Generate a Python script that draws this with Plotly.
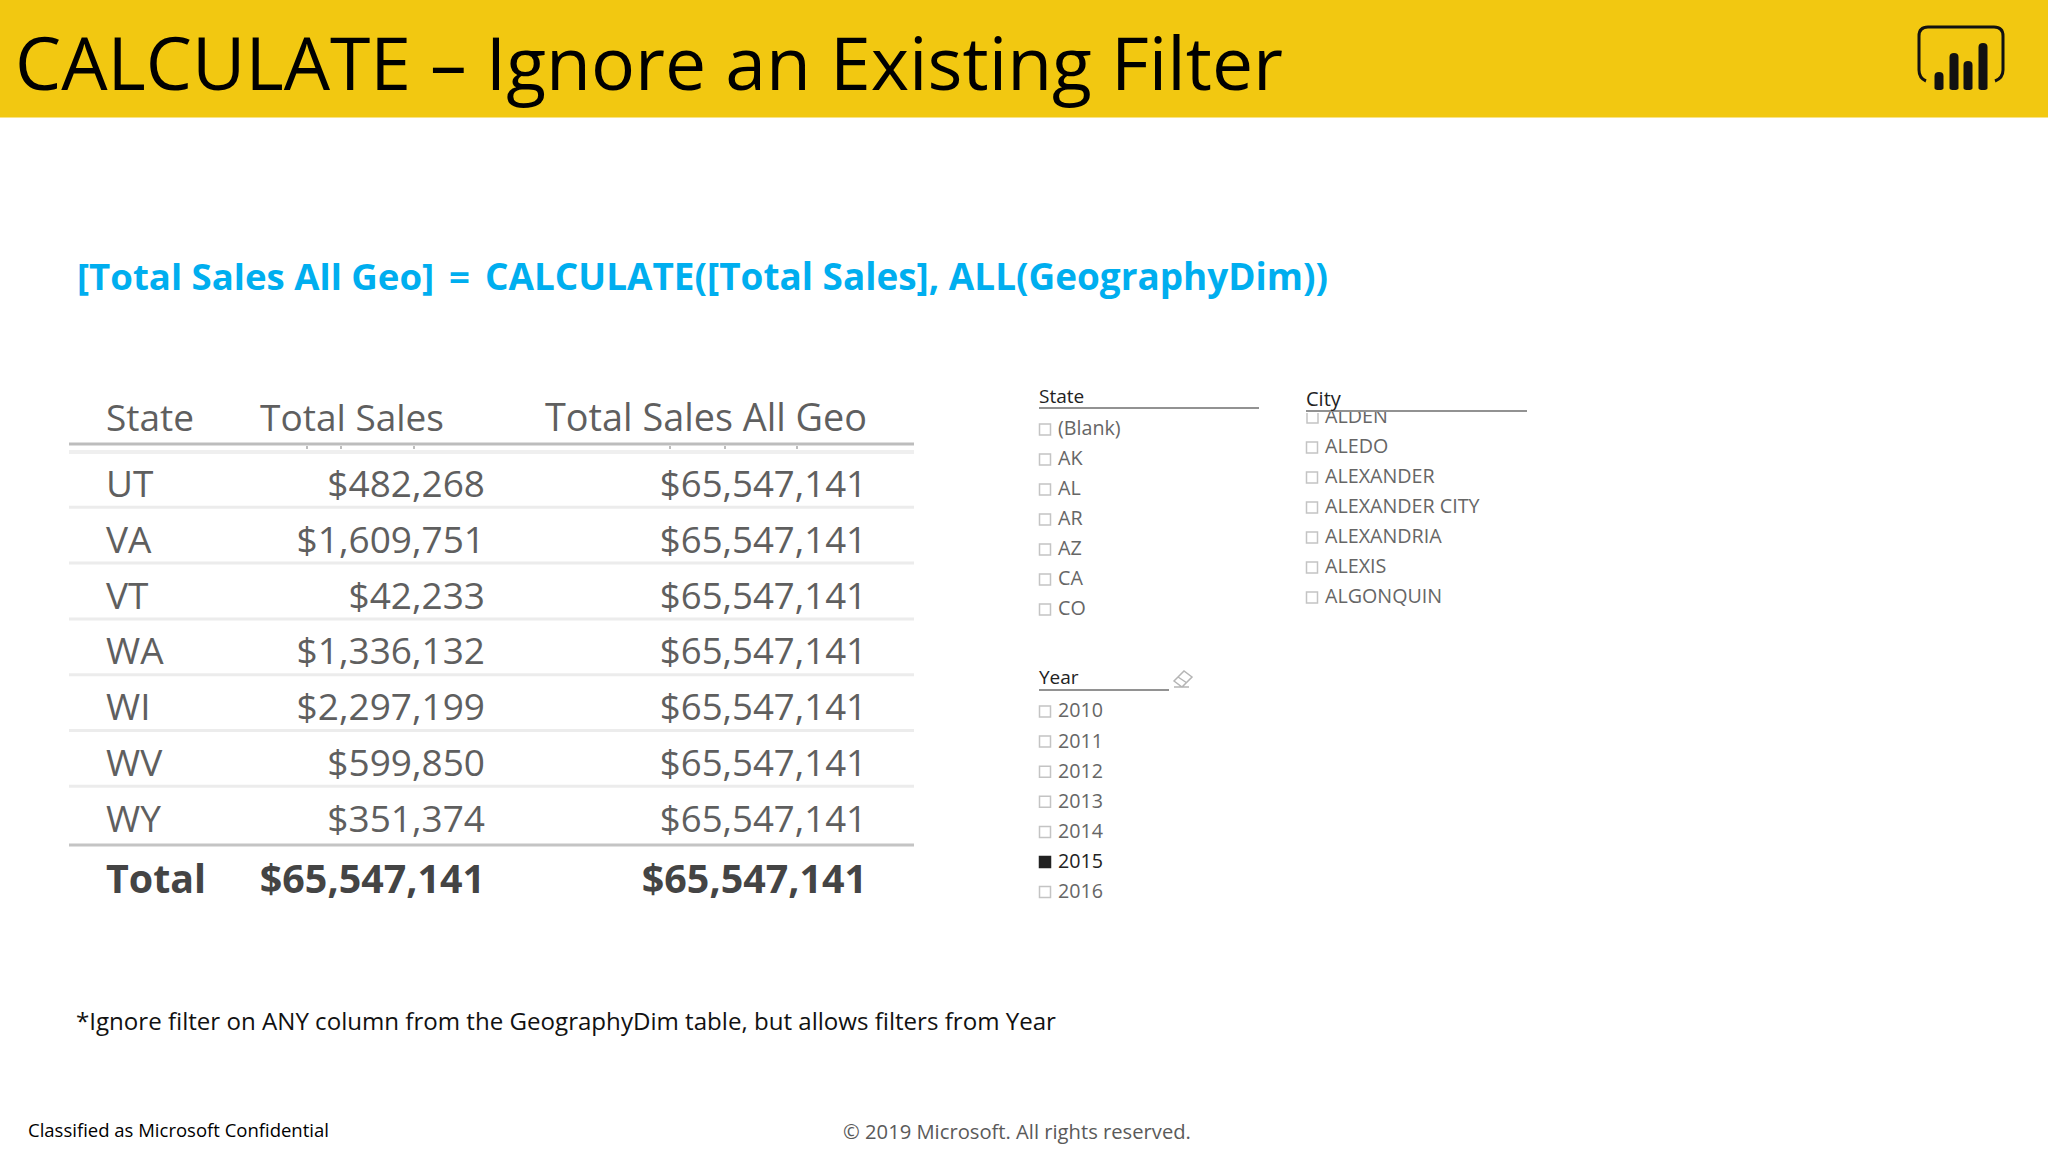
import plotly.graph_objects as go

# table values
states = ["UT", "VA", "VT", "WA", "WI", "WV", "WY"]
total_sales = ["$482,268", "$1,609,751", "$42,233", "$1,336,132", "$2,297,199", "$599,850", "$351,374"]
total_all_geo = ["$65,547,141"] * 7
total_row = ["Total", "$65,547,141", "$65,547,141"]
headers = ["State", "Total Sales", "Total Sales All Geo"]

# slicer items
state_items = ["(Blank)", "AK", "AL", "AR", "AZ", "CA", "CO"]
city_items = ["ALDEN", "ALEDO", "ALEXANDER", "ALEXANDER CITY", "ALEXANDRIA", "ALEXIS", "ALGONQUIN"]
year_items = ["2010", "2011", "2012", "2013", "2014", "2015", "2016"]
year_selected = "2015"

YELLOW = "#F2C811"
BLUE = "#00AEEF"
GREY = "#5f5f5f"
SLICER_GREY = "#666666"
FONT = "Open Sans"

fig = go.Figure()
shapes = []
annots = []


def text_trace(xs, ys, texts, pos, size, color=GREY, family=FONT):
    fig.add_trace(go.Scatter(x=xs, y=ys, text=texts, mode="text", textposition=pos,
                             textfont=dict(family=family, size=size, color=color),
                             showlegend=False, hoverinfo="skip", cliponaxis=False))


def label(x, y, text, size, color="#000000", anchor="left"):
    annots.append(dict(x=x, y=y, text=text, xref="x", yref="y", showarrow=False, xanchor=anchor,
                       yanchor="middle", font=dict(family=FONT, size=size, color=color)))


def hline(x0, x1, y, color, width):
    shapes.append(dict(type="line", x0=x0, x1=x1, y0=y, y1=y, line=dict(color=color, width=width)))


def box(x, y, filled=False):
    shapes.append(dict(type="rect", x0=x - 5.5, x1=x + 5.5, y0=y - 5.5, y1=y + 5.5,
                       fillcolor="#222222" if filled else "rgba(0,0,0,0)",
                       line=dict(color="#222222" if filled else "#c4c4c4", width=1.5)))


# ---- header band
shapes.append(dict(type="rect", x0=0, x1=2048, y0=0, y1=117.5, fillcolor=YELLOW, line=dict(width=0), layer="below"))
label(13, 61, "CALCULATE – Ignore an Existing Filter", 73.3)

# power bi logo
shapes.append(dict(type="path", path="M 1926,81 Q 1919,78 1919,70 V 36 Q 1919,27 1928,27 H 1994 Q 2003,27 2003,36 V 70 Q 2003,78 1995,81",
                   line=dict(color="#111111", width=3)))
for bx, top in zip([1939, 1954, 1968, 1983], [72, 53, 61, 43]):
    shapes.append(dict(type="path", path=f"M {bx-4.5},88 V {top+4} Q {bx-4.5},{top} {bx},{top} Q {bx+4.5},{top} {bx+4.5},{top+4} V 88 Q {bx+4.5},90 {bx},90 Q {bx-4.5},90 {bx-4.5},88 Z",
                       fillcolor="#111111", line=dict(width=0)))

# ---- formula and notes
label(75, 276, "<b>[Total Sales All Geo]</b>", 36.6, BLUE)
label(447, 276, "<b>=</b>", 36.6, BLUE)
label(483, 276, "<b>CALCULATE([Total Sales], ALL(GeographyDim))</b>", 36.9, BLUE)
label(74, 1020, "*Ignore filter on ANY column from the GeographyDim table, but allows filters from Year", 24.1, "#111111")
label(26, 1129, "Classified as Microsoft Confidential", 18.5, "#000000")
label(841, 1131, "© 2019 Microsoft. All rights reserved.", 20.2, "#5a5a5a")

# ---- table
TL, TR = 69, 914
COL_X = [106, 485, 867]
HEAD_Y = 422
ROW_Y0, ROW_H = 487.8, 55.8
TOTAL_Y = 883
row_ys = [ROW_Y0 + i * ROW_H for i in range(len(states))]

text_trace([COL_X[0]], [HEAD_Y], [headers[0]], "middle right", 37)
text_trace([444], [HEAD_Y], [headers[1]], "middle left", 37)
text_trace([COL_X[2]], [HEAD_Y], [headers[2]], "middle left", 37.8)
text_trace([COL_X[0]] * len(states), row_ys, states, "middle right", 37)
text_trace([COL_X[1]] * len(states), row_ys, total_sales, "middle left", 37)
text_trace([COL_X[2]] * len(states), row_ys, total_all_geo, "middle left", 36.6)
text_trace(COL_X, [TOTAL_Y] * 3, [f"<b>{t}</b>" for t in total_row], ["middle right", "middle left", "middle left"], 39.4, "#444444")

hline(TL, TR, 444, "#bdbdbd", 3)
hline(TL, TR, 452, "#efefef", 4)
for i in range(6):
    hline(TL, TR, row_ys[i] + 19.5, "#ececec", 3)
hline(TL, TR, 845, "#c4c4c4", 3)
# scrolled row peeking below the header
for tx in [307, 341, 414, 670, 725, 797]:
    shapes.append(dict(type="line", x0=tx, x1=tx, y0=446, y1=449, line=dict(color="#a8a8a8", width=1.5)))

# ---- state slicer
STATE_BOX_X = 1045
state_ys = [429.5 + i * 30 for i in range(len(state_items))]
text_trace([1058] * 7, [y + 1 for y in state_ys], state_items, "middle right", 19.7, SLICER_GREY)
for y in state_ys:
    box(STATE_BOX_X, y)
label(1037, 396, "State", 19, "#222222")
hline(1039, 1259, 408, "#6e6e6e", 1.5)

# ---- city slicer, first item is cut by the title area
CITY_BOX_X = 1312
city_ys = [417.5 + i * 30 for i in range(len(city_items))]
text_trace([1325] * 7, [y + 1 for y in city_ys], city_items, "middle right", 19.7, SLICER_GREY)
for y in city_ys[1:]:
    box(CITY_BOX_X, y)
shapes.append(dict(type="rect", x0=1300, x1=1530, y0=392, y1=412, fillcolor="#ffffff", line=dict(width=0), layer="above"))
shapes.append(dict(type="path", path="M 1307,413 V 423 H 1318 V 413", line=dict(color="#c4c4c4", width=1.5)))
label(1304, 398, "City", 20, "#222222")
hline(1306, 1527, 411, "#6e6e6e", 1.5)

# ---- year slicer
YEAR_BOX_X = 1045
year_ys = [711.5 + i * 30.1 for i in range(len(year_items))]
year_text = [f"<span style='color:#222222'>{y}</span>" if y == year_selected else y for y in year_items]
text_trace([1058] * 7, [y + 1 for y in year_ys], year_text, "middle right", 19.7, SLICER_GREY)
for y, name in zip(year_ys, year_items):
    box(YEAR_BOX_X, y, name == year_selected)
label(1037, 677, "Year", 19, "#222222")
hline(1039, 1169, 690, "#6e6e6e", 1.5)
# eraser icon
shapes.append(dict(type="path", path="M 1174,681 L 1184,671 L 1192,677 L 1182,687 Z M 1178,677 L 1187,683 M 1174,687 H 1189",
                   line=dict(color="#b5b5b5", width=1.5)))

fig.update_layout(
    width=2048, height=1152,
    margin=dict(l=0, r=0, t=0, b=0),
    paper_bgcolor="#ffffff", plot_bgcolor="#ffffff",
    xaxis=dict(range=[0, 2048], visible=False, fixedrange=True),
    yaxis=dict(range=[1152, 0], visible=False, fixedrange=True),
    shapes=shapes, annotations=annots,
)

fig.write_html("out.html", config={"displayModeBar": False},
               post_script="document.body.style.margin='0';")
